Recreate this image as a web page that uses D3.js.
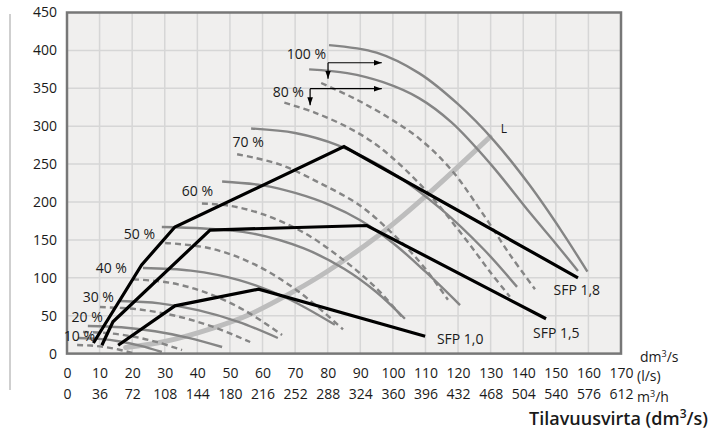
<!DOCTYPE html>
<html><head><meta charset="utf-8">
<script src="https://cdn.jsdelivr.net/npm/d3@7"></script>
<style>
body{margin:0;background:#fff}
svg{display:block}
text{font-family:'Open Sans',sans-serif;fill:#1a1a1a}
</style>
</head><body>
<svg id="chart" width="722" height="429"></svg>
<script>
// ---- tick labels ----
const yTicks = [0,50,100,150,200,250,300,350,400,450];
const flowTicks = [0,10,20,30,40,50,60,70,80,90,100,110,120,130,140,150,160,170];
const m3hLabels = ["0","36","72","108","144","180","216","252","288","324","360","396","432","468","504","540","576","612"];

// ---- fan curves (flow l/s, pressure Pa) ----
const fan100a = [[80.4,407],[95,397],[108,370],[120,329],[131,281],[142,222],[152,160],[159.7,108]];
const fan100b = [[74.3,375],[86,370],[97,358],[108,337],[118,305],[130,250],[142,186],[150,145],[156.8,109]];
const fan100d = [[78,357],[88,337],[98,313],[108,284],[118,242],[128,182],[136,130],[143.6,85]];
const fan80d  = [[66.7,331],[76,318],[86.8,297],[96,272],[109.3,219],[121.6,155],[129.8,108],[135.9,75]];
const fan70   = [[56.5,297],[70,291],[83,275],[100,238],[115,190],[128,137],[138.1,88]];
const fan70d  = [[52.2,263],[65,250],[77.6,225],[90,195],[100.7,155],[109,117],[116.9,71]];
const fan60   = [[47.6,227],[60,222],[70,212],[80.7,196],[90,176],[100,146],[110,108],[120.6,64]];
const fan60d  = [[41.4,198],[50,195],[60,184],[72.5,160],[85,123],[95,86],[103.1,47]];
const fan50   = [[29.1,167],[42,165],[56.2,159],[72.5,139],[85,112],[95,81],[103.7,46]];
const fan50d  = [[30.1,146],[43.8,139],[57.4,118],[71,82],[84.7,32]];
const fan40   = [[23.3,113],[38,109.5],[52.8,97],[67.5,73],[82.2,38]];
const fan40d  = [[20.3,98],[31.7,93.4],[43.2,79.6],[54.6,56.7],[66,24.5]];
const fan30   = [[16.3,69.3],[28.4,66.3],[40.5,57.1],[52.6,41.9],[64.7,20.6]];
const fan30d  = [[10.1,61.4],[21.6,58.5],[33.2,49.9],[44.7,35.5],[56.2,15.3]];
const fan20   = [[6.4,36.4],[16.7,34.7],[27,29.5],[37.3,20.8],[47.6,8.7]];
const fan20d  = [[4.9,28.5],[12.5,27],[20.1,22.6],[27.7,15.1],[35.3,4.7]];
const fan10   = [[3.4,20.6],[9.8,19.4],[16.3,16],[22.7,10.2],[29.1,2.1]];
const fan10d  = [[3.1,11.3],[7.3,10.6],[11.6,8.7],[15.8,5.4],[20,0.8]];

// ---- SFP lines and system curve L ----
const sfp18 = [[8.1,14],[22.9,117],[33.1,167],[85,273],[156.8,100]];
const sfp15 = [[10.7,11],[14.1,42],[43.9,163],[92,169],[147,46]];
const sfp10 = [[15.7,11],[33.1,63],[58.8,85],[109.9,23]];
const lineL = [[18,8],[30,16],[45,34],[56.2,52],[70,83],[79.7,108],[96,157],[110.4,209],[129.8,286]];

const solidCurves = [fan100a,fan100b,fan70,fan60,fan50,fan40,fan30,fan20,fan10];
const dashedCurves = [fan100d,fan80d,fan70d,fan60d,fan50d,fan40d,fan30d,fan20d,fan10d];
const sfpLines = [sfp18,sfp15,sfp10];

const pctLabels = [
  {t:"100 %", p:[79.5,394.7]}, {t:"80 %", p:[72.7,345]}, {t:"70 %", p:[60.4,279]},
  {t:"60 %", p:[44.8,214.6]}, {t:"50 %", p:[27,157]}, {t:"40 %", p:[18.4,112.4]},
  {t:"30 %", p:[14.4,75]}, {t:"20 %", p:[11,47.8]}, {t:"10 %", p:[8.6,23.2]}
];
const sfpLabels = [{t:"SFP 1,8", p:[149.3,84]},{t:"SFP 1,5", p:[143,27]},{t:"SFP 1,0", p:[113.5,19]}];

const svg=d3.select("#chart");
const x=d3.scaleLinear().domain([0,170]).range([67,621]);
const y=d3.scaleLinear().domain([0,450]).range([353.6,12.5]);

// left decorative rule
svg.append("line").attr("x1",10).attr("x2",10).attr("y1",14).attr("y2",390)
  .attr("stroke","#cfcfcf").attr("stroke-width",2);

// plot background
svg.append("rect").attr("x",x(0)).attr("y",y(450)).attr("width",x(170)-x(0)).attr("height",y(0)-y(450))
  .attr("fill","#f0efee");

// grid
const grid=svg.append("g");
grid.selectAll(".v").data(flowTicks.slice(1,-1)).join("line")
  .attr("x1",d=>x(d)).attr("x2",d=>x(d)).attr("y1",y(450)).attr("y2",y(0))
  .attr("stroke","#d6d6d6").attr("stroke-width",1.5);
grid.selectAll(".h").data(yTicks.slice(1,-1)).join("line")
  .attr("x1",x(0)).attr("x2",x(170)).attr("y1",d=>y(d)).attr("y2",d=>y(d))
  .attr("stroke","#d6d6d6").attr("stroke-width",1.5);

const line=d3.line().x(d=>x(d[0])).y(d=>y(d[1]));
const smooth=d3.line().x(d=>x(d[0])).y(d=>y(d[1])).curve(d3.curveCatmullRom.alpha(0.5));

svg.append("clipPath").attr("id","pc").append("rect")
  .attr("x",x(0)).attr("y",y(450)).attr("width",x(170)-x(0)).attr("height",y(0)-y(450));
const plot=svg.append("g").attr("clip-path","url(#pc)");

// system curve L
plot.append("path").attr("d",smooth(lineL)).attr("fill","none")
  .attr("stroke","#bdbdbd").attr("stroke-width",5).attr("stroke-linecap","round");

plot.selectAll(".dc").data(dashedCurves).join("path")
  .attr("d",smooth).attr("fill","none").attr("stroke","#858585").attr("stroke-width",2.4)
  .attr("stroke-dasharray","6,4");
plot.selectAll(".sc").data(solidCurves).join("path")
  .attr("d",smooth).attr("fill","none").attr("stroke","#858585").attr("stroke-width",2.4);

plot.selectAll(".sfp").data(sfpLines).join("path")
  .attr("d",line).attr("fill","none").attr("stroke","#000").attr("stroke-width",3.2)
  .attr("stroke-linejoin","miter");

// border
svg.append("rect").attr("x",x(0)).attr("y",y(450)).attr("width",x(170)-x(0)).attr("height",y(0)-y(450))
  .attr("fill","none").attr("stroke","#777").attr("stroke-width",2.5);

// percent labels
svg.selectAll(".pl").data(pctLabels).join("text")
  .attr("x",d=>x(d.p[0])).attr("y",d=>y(d.p[1])).attr("text-anchor","end")
  .attr("dy","0.35em").attr("font-size",14).text(d=>d.t);

// arrows
const defs=svg.append("defs");
defs.append("marker").attr("id","ah").attr("viewBox","0 0 10 10").attr("refX",10).attr("refY",5)
  .attr("markerWidth",8).attr("markerHeight",8).attr("orient","auto-start-reverse")
  .attr("markerUnits","userSpaceOnUse")
  .append("path").attr("d","M0,1.5L10,5L0,8.5Z").attr("fill","#000");
const arrows=[{p:[80.1,383.7],r:96.6,d:362.7},{p:[74.6,349.5],r:96.6,d:327.5}];
arrows.forEach(a=>{
  svg.append("path").attr("d",`M${x(a.r)},${y(a.p[1])}H${x(a.p[0])}`).attr("stroke","#000").attr("stroke-width",1.2).attr("fill","none")
    .attr("marker-start","url(#ah)");
  svg.append("path").attr("d",`M${x(a.p[0])},${y(a.p[1])}V${y(a.d)}`).attr("stroke","#000").attr("stroke-width",1.2).attr("fill","none")
    .attr("marker-end","url(#ah)");
});

svg.append("text").attr("x",x(133.1)).attr("y",y(297)).attr("dy","0.35em").attr("font-size",12).text("L");

svg.selectAll(".sl").data(sfpLabels).join("text")
  .attr("x",d=>x(d.p[0])).attr("y",d=>y(d.p[1])).attr("dy","0.35em").attr("font-size",14).text(d=>d.t);

// y axis labels
const ya=svg.append("g").attr("transform",`translate(${x(0)-10},0)`)
  .call(d3.axisLeft(y).tickValues(yTicks).tickSize(0).tickPadding(0));
ya.select(".domain").remove();
ya.selectAll("text").attr("font-size",14).attr("font-family","'Open Sans',sans-serif").attr("fill","#1a1a1a");

// x axis rows
const xa1=svg.append("g").attr("transform",`translate(0,368)`)
  .call(d3.axisBottom(x).tickValues(flowTicks).tickSize(0).tickPadding(0).tickFormat(d3.format("d")));
const xa2=svg.append("g").attr("transform",`translate(0,389)`)
  .call(d3.axisBottom(x).tickValues(flowTicks).tickSize(0).tickPadding(0).tickFormat((d,i)=>m3hLabels[i]));
[xa1,xa2].forEach(g=>{g.select(".domain").remove();
  g.selectAll("text").attr("font-size",14).attr("font-family","'Open Sans',sans-serif").attr("fill","#1a1a1a");});

// unit labels
const u1=svg.append("text").attr("x",640).attr("y",362).attr("font-size",14);
u1.append("tspan").text("dm");u1.append("tspan").attr("font-size",9).attr("dy",-5).text("3");u1.append("tspan").attr("dy",5).text("/s");
svg.append("text").attr("x",637).attr("y",381).attr("font-size",14).text("(l/s)");
const u3=svg.append("text").attr("x",637).attr("y",402).attr("font-size",14);
u3.append("tspan").text("m");u3.append("tspan").attr("font-size",9).attr("dy",-5).text("3");u3.append("tspan").attr("dy",5).text("/h");

const tt=svg.append("text").attr("x",708).attr("y",425).attr("text-anchor","end").attr("font-size",18).attr("font-weight",600);
tt.append("tspan").text("Tilavuusvirta (dm");tt.append("tspan").attr("font-size",12).attr("dy",-7).text("3");tt.append("tspan").attr("dy",7).text("/s)");
</script>
</body></html>
